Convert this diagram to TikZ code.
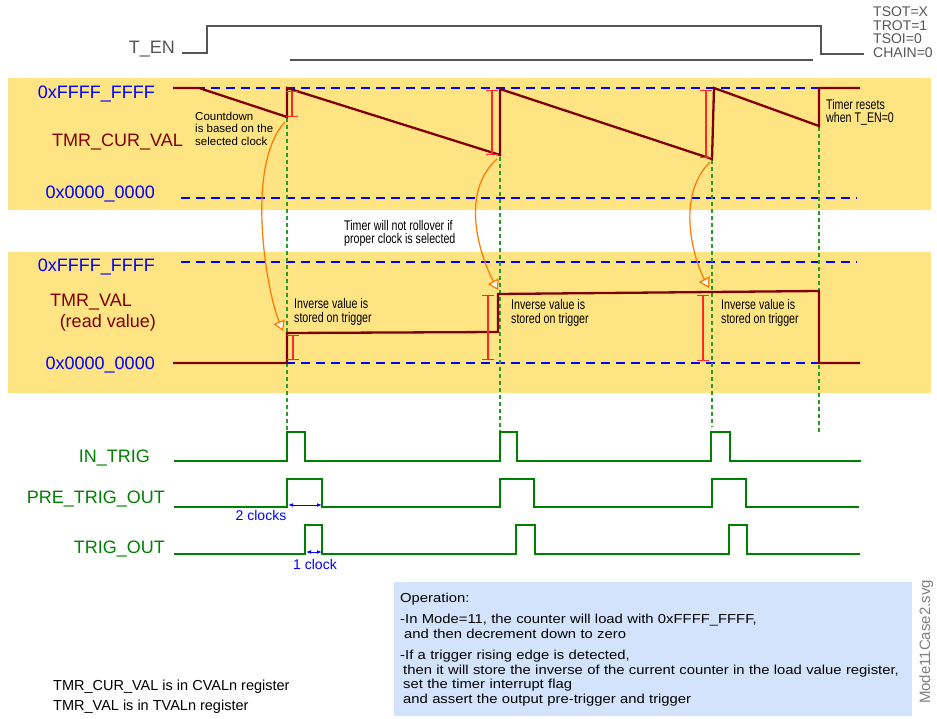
\documentclass[tikz,border=0pt]{standalone}
\usepackage{fontspec}
\setmainfont{Liberation Sans}
\newfontfamily\narrowfont{Liberation Sans}[FakeStretch=0.76]
\newfontfamily\widefont{Liberation Sans}[FakeStretch=1.14]
\usetikzlibrary{arrows.meta}

\definecolor{bandyellow}{RGB}{254,228,130}
\definecolor{valred}{RGB}{128,0,0}
\definecolor{barred}{RGB}{255,40,40}
\definecolor{siggreen}{RGB}{0,128,0}
\definecolor{guidegreen}{RGB}{40,155,40}
\definecolor{arrorange}{RGB}{255,120,0}
\definecolor{opblue}{RGB}{212,227,252}
\definecolor{engray}{RGB}{85,85,85}

\begin{document}
\begin{tikzpicture}[x=1pt, y=-1pt, >=latex]
  \tikzstyle{bigtxt} = [inner sep=0pt, anchor=base east, font=\fontsize{18}{20}\selectfont]
  \tikzstyle{hexlbl} = [bigtxt, text=blue]
  \tikzstyle{vallbl} = [bigtxt, text=valred]
  \tikzstyle{siglbl} = [bigtxt, text=siggreen]
  \tikzstyle{note} = [inner sep=0pt, anchor=north west, align=left, font=\narrowfont\fontsize{14}{14.5}\selectfont]
  \tikzstyle{clktxt} = [inner sep=0pt, anchor=base, text=blue, font=\fontsize{14}{16}\selectfont]
  \tikzstyle{refline} = [blue, line width=2.2pt, dash pattern=on 9pt off 6pt]
  \tikzstyle{guide} = [guidegreen, line width=1.1pt, dash pattern=on 4pt off 3pt]
  \tikzstyle{wave} = [valred, line width=2.3pt]
  \tikzstyle{sig} = [siggreen, line width=2.3pt]
  \tikzstyle{ibar} = [barred, line width=1.2pt, {Bar[width=12pt]}-{Bar[width=12pt]}]
  \tikzstyle{load} = [arrorange, line width=1.2pt, -{Triangle[length=10pt, width=12pt, fill=white]}]
  \tikzstyle{clk} = [blue, line width=1pt, {Latex[length=5pt]}-{Latex[length=5pt]}]
  \tikzstyle{opbox} = [anchor=north west, fill=opblue, minimum height=134pt, text width=506pt,
                       inner xsep=6pt, inner ysep=5pt, align=left, font=\widefont\fontsize{13}{14.5}\selectfont]

  \useasboundingbox (0,0) rectangle (937,719);

  % background bands
  \fill[bandyellow] (8,78) rectangle (931,210);
  \fill[bandyellow] (8,252) rectangle (931,393);
  \foreach \y in {88,198,262,363}
    \draw[refline] (181,\y) -- (857,\y);

  % trigger guides
  \draw[guide] (287,118) -- (287,432);
  \draw[guide] (500,157) -- (500,438);
  \draw[guide] (712,160) -- (712,427);
  \draw[guide] (819,127) -- (819,432);

  % enable
  \node[bigtxt, text=engray] (ten) at (175,54) {T\_EN};
  \draw[engray, line width=2pt] (182,53) -- (207,53) -- (207,26) -- (821,26) -- (821,54) -- (864,54);
  \draw[engray, line width=1.5pt] (290,60) -- (813,60);
  \node[inner sep=0pt, anchor=north west, align=left, text=engray,
        font=\fontsize{14}{13.4}\selectfont] (cfg) at (873,7) {TSOT=X\\TROT=1\\TSOI=0\\CHAIN=0};

  % current value
  \node[hexlbl] (hi1) at (155,99) {0xFFFF\_FFFF};
  \node[vallbl] (cur) at (183,147) {TMR\_CUR\_VAL};
  \node[hexlbl] (lo1) at (155,199) {0x0000\_0000};
  \draw[wave] (173,88) -- (199,88) -- (287,117) -- (287,88) -- (500,155) -- (500,89)
    -- (712,159) -- (714,88) -- (819,126) -- (819,88) -- (860,88);
  \draw[ibar] (292,91) -- (292,117);
  \draw[ibar] (492,90) -- (492,155);
  \draw[ibar] (706,90) -- (706,158);
  \node[inner sep=0pt, anchor=north west, align=left, font=\fontsize{11.5}{12.3}\selectfont]
    (cntdn) at (195,112) {Countdown\\is based on the\\selected clock};
  \node[note, font=\narrowfont\fontsize{14}{13.2}\selectfont] (reset) at (826,99) {Timer resets\\when T\_EN=0};
  \node[note, font=\narrowfont\fontsize{14}{13.2}\selectfont] (roll) at (344,220) {Timer will not rollover if\\proper clock is selected};

  % read value
  \node[hexlbl] (hi2) at (155,272) {0xFFFF\_FFFF};
  \node[vallbl] (tmr) at (132,306) {TMR\_VAL};
  \node[vallbl] (rd) at (156,327) {(read value)};
  \node[hexlbl] (lo2) at (155,369) {0x0000\_0000};
  \draw[wave] (173,363) -- (287,363) -- (287,333) -- (498,332) -- (498,294) -- (819,291)
    -- (819,363) -- (860,363);
  \draw[ibar] (293,335) -- (293,360);
  \draw[ibar] (488,295) -- (488,360);
  \draw[ibar] (703,295) -- (703,361);
  \node[note] (inv1) at (294,298) {Inverse value is\\stored on trigger};
  \node[note] (inv2) at (511,299) {Inverse value is\\stored on trigger};
  \node[note] (inv3) at (721,299) {Inverse value is\\stored on trigger};

  % load arrows
  \coordinate (cnt1) at (285,122);
  \coordinate (ld1) at (283,331);
  \coordinate (cnt2) at (497,159);
  \coordinate (ld2) at (498,290);
  \coordinate (cnt3) at (710,162);
  \coordinate (ld3) at (709,288);
  \draw[load] (cnt1) .. controls (245,165) and (266,290) .. (ld1);
  \draw[load] (cnt2) .. controls (457,195) and (483,262) .. (ld2);
  \draw[load] (cnt3) .. controls (675,197) and (694,260) .. (ld3);

  % trigger signals
  \node[siglbl] (intrig) at (150,462) {IN\_TRIG};
  \node[siglbl] (pretrig) at (165,503) {PRE\_TRIG\_OUT};
  \node[siglbl] (trigout) at (165,553) {TRIG\_OUT};
  \draw[sig] (174,461) -- (287,461) -- (287,432) -- (305,432) -- (305,461) -- (500,461) -- (500,432)
    -- (517,432) -- (517,461) -- (711,461) -- (711,432) -- (730,432) -- (730,461) -- (861,461);
  \draw[sig] (174,507) -- (287,507) -- (287,479) -- (322,479) -- (322,507) -- (500,507) -- (500,479)
    -- (534,479) -- (534,507) -- (712,507) -- (712,479) -- (746,479) -- (746,507) -- (859,507);
  \draw[sig] (174,554) -- (305,554) -- (305,525) -- (322,525) -- (322,554) -- (516,554) -- (516,525)
    -- (535,525) -- (535,554) -- (729,554) -- (729,525) -- (747,525) -- (747,554) -- (860,554);

  \coordinate (pre0) at (288,505);
  \coordinate (pre1) at (322,505);
  \coordinate (trg0) at (306,552);
  \coordinate (trg1) at (322,552);
  \draw[clk] (pre0) -- (pre1);
  \draw[clk] (trg0) -- (trg1);
  \node[clktxt] (twoclk) at (261,520) {2 clocks};
  \node[clktxt] (oneclk) at (315,569) {1 clock};

  % notes
  \node[opbox] (op) at (394,582) {Operation:\\[7pt]
    -In Mode=11, the counter will load with 0xFFFF\_FFFF,\\
    \hspace*{4pt}and then decrement down to zero\\[7pt]
    -If a trigger rising edge is detected,\\
    \hspace*{3pt}then it will store the inverse of the current counter in the load value register,\\
    \hspace*{3pt}set the timer interrupt flag\\
    \hspace*{3pt}and assert the output pre-trigger and trigger};
  \node[inner sep=0pt, anchor=base west, font=\fontsize{14.5}{18}\selectfont] (cvaln) at (53,690)
    {TMR\_CUR\_VAL is in CVALn register};
  \node[inner sep=0pt, anchor=base west, font=\fontsize{14.5}{18}\selectfont] (tvaln) at (53,710)
    {TMR\_VAL is in TVALn register};
  \node[rotate=90, anchor=base, inner sep=0pt, text=gray, font=\fontsize{15}{16}\selectfont]
    (fname) at (930,642) {Mode11Case2.svg};
\end{tikzpicture}
\end{document}
